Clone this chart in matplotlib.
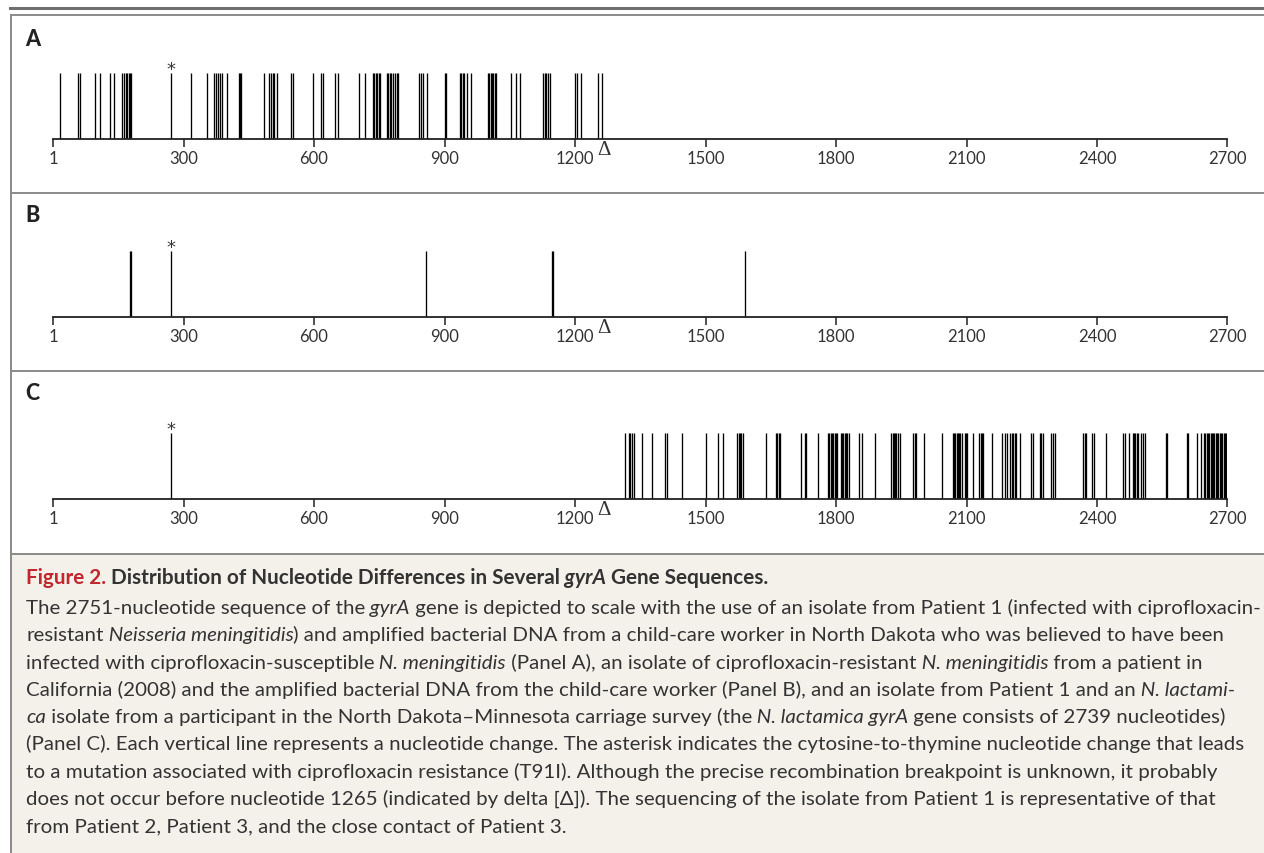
import matplotlib
matplotlib.use("Agg")
import matplotlib.pyplot as plt
from matplotlib.lines import Line2D
from matplotlib.patches import Rectangle

W, H = 1264, 854
FONT = "Lato"

# ---------------- data ----------------
tick_values = [1, 300, 600, 900, 1200, 1500, 1800, 2100, 2400, 2700]
tick_labels = ["1", "300", "600", "900", "1200", "1500", "1800", "2100", "2400", "2700"]
asterisk_position = 270
delta_position = 1265
panel_names = ["A", "B", "C"]

panel_a_changes = [15, 57, 62, 96, 108, 131, 141, 159, 163, 167, 171, 174, 177, 180,
                   270, 317, 354, 371, 375, 380, 384, 389, 400, 427, 430, 433,
                   484, 496, 500, 505, 508, 515, 546, 551, 597, 615, 620, 648, 656,
                   704, 716, 735, 738, 742, 745, 749, 752, 767, 771, 775, 778, 782,
                   786, 790, 794, 841, 847, 851, 860, 900, 903, 935, 938, 942, 945,
                   952, 961, 999, 1003, 1006, 1009, 1012, 1016, 1018, 1052, 1064,
                   1073, 1126, 1130, 1134, 1138, 1142, 1200, 1204, 1213, 1253, 1262]

panel_b_changes = [177, 179, 270, 858, 1146, 1150, 1590]

panel_c_changes = [270, 1315, 1324, 1327, 1330, 1335, 1355, 1376, 1407, 1411, 1445,
                   1502, 1528, 1541, 1573, 1576, 1579, 1582, 1585, 1640, 1662, 1665,
                   1668, 1671, 1720, 1728, 1731, 1759, 1781, 1784, 1788, 1791, 1794,
                   1797, 1800, 1803, 1811, 1814, 1817, 1820, 1823, 1826, 1829, 1853,
                   1860, 1889, 1927, 1930, 1933, 1936, 1939, 1942, 1946, 1977, 1981,
                   1985, 2002, 2044, 2068, 2071, 2074, 2077, 2080, 2083, 2086, 2090,
                   2096, 2099, 2102, 2114, 2129, 2133, 2136, 2139, 2159, 2181, 2189,
                   2194, 2201, 2204, 2208, 2211, 2214, 2223, 2249, 2252, 2269, 2272,
                   2275, 2294, 2298, 2303, 2368, 2372, 2375, 2389, 2394, 2421, 2460,
                   2464, 2473, 2482, 2485, 2488, 2491, 2494, 2500, 2505, 2511, 2558,
                   2562, 2606, 2609, 2631, 2638, 2646, 2649, 2652, 2655, 2658, 2661,
                   2664, 2667, 2670, 2673, 2676, 2679, 2682, 2685, 2688, 2691, 2694,
                   2697]

title_runs = [("Figure 2.", "r"),
              (" Distribution of Nucleotide Differences in Several", "b"),
              (" gyrA", "bi"),
              (" Gene Sequences.", "b")]

caption_lines = [
    [("The 2751-nucleotide sequence of the", ""), (" gyrA", "i"),
     (" gene is depicted to scale with the use of an isolate from Patient 1 (infected with ciprofloxacin-", "")],
    [("resistant", ""), (" Neisseria meningitidis", "i"),
     (") and amplified bacterial DNA from a child-care worker in North Dakota who was believed to have been", "")],
    [("infected with ciprofloxacin-susceptible", ""), (" N. meningitidis", "i"),
     (" (Panel A), an isolate of ciprofloxacin-resistant", ""), (" N. meningitidis", "i"),
     (" from a patient in", "")],
    [("California (2008) and the amplified bacterial DNA from the child-care worker (Panel B), and an isolate from Patient 1 and an", ""),
     (" N. lactami-", "i")],
    [("ca", "i"), (" isolate from a participant in the North Dakota\u2013Minnesota carriage survey (the", ""),
     (" N. lactamica gyrA", "i"), (" gene consists of 2739 nucleotides)", "")],
    [("(Panel C). Each vertical line represents a nucleotide change. The asterisk indicates the cytosine-to-thymine nucleotide change that leads", "")],
    [("to a mutation associated with ciprofloxacin resistance (T91I). Although the precise recombination breakpoint is unknown, it probably", "")],
    [("does not occur before nucleotide 1265 (indicated by delta [\u0394]). The sequencing of the isolate from Patient 1 is representative of that", "")],
    [("from Patient 2, Patient 3, and the close contact of Patient 3.", "")],
]

# ---------------- layout ----------------
axis_y = [140, 318, 500]      # px from top
top_y = [74, 252, 434]
label_y = [39, 215, 394]
x_left, x_right = 53.5, 1227.5

TEXT = "#333333"
RED = "#c1272d"

fig = plt.figure(figsize=(W / 100, H / 100), dpi=100)
fig.patch.set_facecolor("white")
bg = fig.add_axes([0, 0, 1, 1])
bg.set_xlim(0, W)
bg.set_ylim(H, 0)
bg.axis("off")

bg.add_patch(Rectangle((11, 555), W - 11, H - 555, facecolor="#f4f1eb", edgecolor="none", zorder=0))
bg.add_line(Line2D([10, W], [8.5, 8.5], color="#6f6f6f", lw=2.2))
for yy in [16, 194, 372, 555]:
    bg.add_line(Line2D([11, W], [yy, yy], color="#8a8a8a", lw=1.4))
bg.add_line(Line2D([11, 11], [16, H], color="#8a8a8a", lw=1.4))

for name, data, ay, ty, ly in zip(panel_names, [panel_a_changes, panel_b_changes, panel_c_changes],
                                  axis_y, top_y, label_y):
    ax = fig.add_axes([x_left / W, 1 - ay / H, (x_right - x_left) / W, (ay - ty) / H])
    ax.set_facecolor("none")
    ax.set_xlim(1, 2700)
    ax.set_ylim(0, 1)
    ax.vlines(data, 0, 1, color="black", lw=0.95)
    for s in ["top", "right", "left"]:
        ax.spines[s].set_visible(False)
    ax.spines["bottom"].set_linewidth(1.3)
    ax.spines["bottom"].set_color("#222222")
    ax.set_yticks([])
    ax.set_xticks(tick_values)
    ax.set_xticklabels(tick_labels, fontsize=12, family=FONT, color=TEXT)
    ax.tick_params(axis="x", direction="out", length=6, width=1.1, pad=2.0, color="#222222")
    ax.annotate("*", xy=(asterisk_position, 1), xytext=(0, -0.8), textcoords="offset points",
                ha="center", va="baseline", fontsize=13, family="DejaVu Sans", color=TEXT)
    ax.annotate("\u0394", xy=(delta_position, 0), xytext=(0.5, -0.6), textcoords="offset points",
                ha="center", va="top", fontsize=15, family="Liberation Serif", color=TEXT)
    bg.text(25, ly, name, fontsize=15.5, fontweight="black", family=FONT, color="#222222",
            ha="left", va="center")

# ---------------- caption ----------------
renderer = fig.canvas.get_renderer()


def plain(runs):
    return "".join(t for t, _ in runs)


probe = fig.text(0, 0, plain(caption_lines[0]), fontsize=10, family=FONT)
body_size = 10 * 1236 / probe.get_window_extent(renderer).width
probe.remove()
probe = fig.text(0, 0, plain(title_runs), fontsize=10, family=FONT, fontweight="bold")
title_size = 10 * 752 / probe.get_window_extent(renderer).width
probe.remove()


def draw_runs(x, y, runs, size):
    prev = None
    for txt, st in runs:
        kw = dict(fontsize=size, family=FONT,
                  color=RED if "r" in st else TEXT,
                  fontstyle="italic" if "i" in st else "normal",
                  fontweight="bold" if ("b" in st or "r" in st) else "normal")
        if prev is None:
            prev = bg.text(x, y, txt, ha="left", va="baseline", **kw)
        else:
            prev = bg.annotate(txt, xy=(1, 0), xycoords=prev, ha="left", va="bottom", **kw)


draw_runs(26, 584, title_runs, title_size)
for i, runs in enumerate(caption_lines):
    draw_runs(26, 614 + 27.3 * i, runs, body_size)

fig.savefig("out.png", dpi=100, facecolor="white")
